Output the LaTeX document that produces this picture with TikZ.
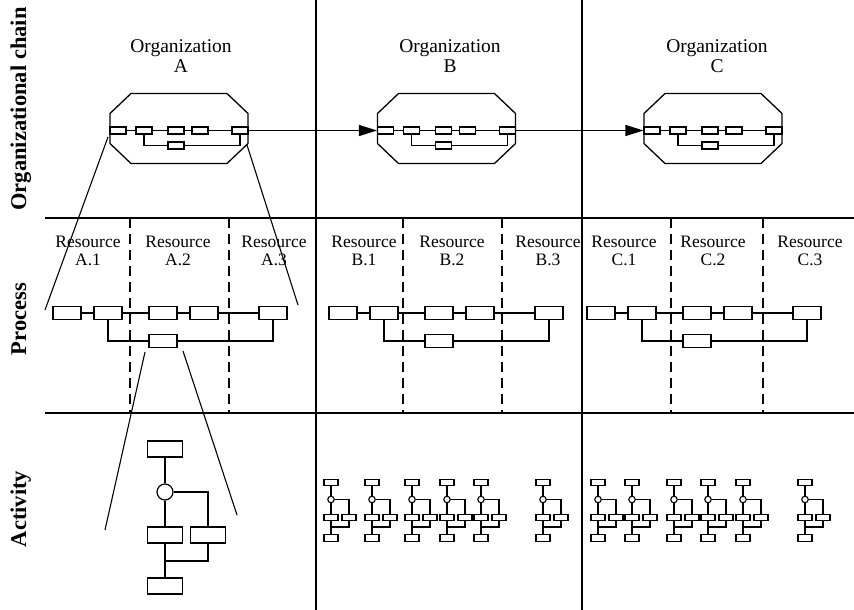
\documentclass[tikz,border=0pt]{standalone}
\usepackage{fontspec}
\setmainfont{Liberation Serif}
\usetikzlibrary{arrows.meta}

\begin{document}
\begin{tikzpicture}[x=1pt,y=-1pt,
  frame/.style={line width=1.7pt},
  band/.style={line width=1.3pt},
  lane/.style={line width=1.2pt, dash pattern=on 10pt off 6pt},
  link/.style={line width=1.1pt},
  funnel/.style={line width=1.1pt},
  flow/.style={line width=1.2pt, -{Triangle[length=18pt,width=11pt]}},
  obox/.style={draw, line width=1.1pt, minimum width=16pt, minimum height=7pt, inner sep=0pt},
  pbox/.style={draw, line width=1.2pt, minimum width=28pt, minimum height=13pt, inner sep=0pt},
  abox/.style={draw, line width=1.2pt, minimum width=35pt, minimum height=16pt, inner sep=0pt},
  sbox/.style={draw, line width=1.1pt, minimum width=14pt, minimum height=6.3pt, inner sep=0pt},
  orgtext/.style={font=\fontsize{19.5}{22}\selectfont, inner sep=0pt, anchor=base},
  restext/.style={font=\fontsize{17.5}{20}\selectfont, inner sep=0pt, anchor=base},
  rowtitle/.style={font=\bfseries\fontsize{22.5}{26}\selectfont, rotate=90, anchor=base, inner sep=0pt},
  % organisation: octagon holding a small process chain
  orgchain/.pic={
    \draw[line width=1.3pt] (-48,-35) -- (48,-35) -- (69,-15) -- (69,15) -- (48,35)
      -- (-48,35) -- (-69,15) -- (-69,-15) -- cycle;
    \node[obox] (-b1) at (-61,2) {};
    \node[obox] (-b2) at (-35,2) {};
    \node[obox] (-b3) at (-3,2) {};
    \node[obox] (-b4) at (21,2) {};
    \node[obox] (-b5) at (61,2) {};
    \node[obox] (-lo) at (-3,17) {};
    \draw[link] (-b1) -- (-b2) -- (-b3) -- (-b4) -- (-b5);
    \draw[link] (-b2.south) |- (-lo.west);
    \draw[link] (-lo.east) -| (-b5.south);
  },
  % process chain across the resources
  procchain/.pic={
    \node[pbox] (-b1) at (0,0) {};
    \node[pbox] (-b2) at (41,0) {};
    \node[pbox] (-b3) at (96,0) {};
    \node[pbox] (-b4) at (137,0) {};
    \node[pbox] (-b5) at (206,0) {};
    \node[pbox] (-lo) at (96,28) {};
    \draw[link] (-b1) -- (-b2) -- (-b3) -- (-b4) -- (-b5);
    \draw[link] (-b2.south) |- (-lo.west);
    \draw[link] (-lo.east) -| (-b5.south);
  },
  % small activity flow
  actsmall/.pic={
    \node[sbox] (-t) at (0,0) {};
    \node[circle, draw, line width=1.1pt, minimum size=6.5pt, inner sep=0pt] (-c) at (0,17) {};
    \node[sbox] (-l) at (0,35) {};
    \node[sbox] (-r) at (18,35) {};
    \node[sbox] (-b) at (0,55.5) {};
    \coordinate (-j) at (0,44.5);
    \draw[line width=1.2pt] (-t) -- (-c) -- (-l) -- (-b);
    \draw[line width=1.2pt] (-c) -| (-r);
    \draw[line width=1.2pt] (-r.south) |- (-j);
  }
]
\useasboundingbox (0,0) rectangle (854,610);

% ---- grid of the three levels ----
\draw[frame] (316,0) -- (316,610);
\draw[frame] (582,0) -- (582,610);
\draw[band] (45,218) -- (854,218);
\draw[band] (45,413) -- (854,413);
\foreach \lx in {130,229,403,502,671,763}
  \draw[lane] (\lx,218) -- (\lx,413);

% ---- row titles ----
\node[rowtitle] (tOrg) at (26,109) {Organizational chain};
\node[rowtitle] (tProc) at (26,319) {Process};
\node[rowtitle] (tAct) at (26,509) {Activity};

% ---- organizational chain ----
\node[orgtext] (oA1) at (181,53) {Organization};
\node[orgtext] (oA2) at (181,73) {A};
\node[orgtext] (oB1) at (450,53) {Organization};
\node[orgtext] (oB2) at (450,73) {B};
\node[orgtext] (oC1) at (717,53) {Organization};
\node[orgtext] (oC2) at (717,73) {C};

\pic (A) at (179,128.5) {orgchain};
\pic (B) at (446.5,128.5) {orgchain};
\pic (C) at (713,128.5) {orgchain};

\draw[flow] (A-b5) -- (B-b1);
\draw[flow] (B-b5) -- (C-b1);

% ---- resources ----
\foreach \rx/\rl in {88/A.1,178/A.2,274/A.3,364/B.1,452/B.2,548/B.3,624/C.1,713/C.2,810/C.3}{
  \node[restext] (r\rl a) at (\rx,247) {Resource};
  \node[restext] (r\rl b) at (\rx,265) {\rl};
}

% ---- processes ----
\pic (PA) at (67,313) {procchain};
\pic (PB) at (343,313) {procchain};
\pic (PC) at (601,313) {procchain};

% zoom lines from organization A to its process
\coordinate (zA1) at (108,137);
\coordinate (zA2) at (45,310);
\coordinate (zA3) at (247,145);
\coordinate (zA4) at (298,305);
\draw[funnel] (zA1) -- (zA2);
\draw[funnel] (zA3) -- (zA4);

% zoom lines from the process step to its activity flow
\coordinate (zP1) at (145,352);
\coordinate (zP2) at (105,530);
\coordinate (zP3) at (183,351);
\coordinate (zP4) at (237,515);
\draw[funnel] (zP1) -- (zP2);
\draw[funnel] (zP3) -- (zP4);

% ---- detailed activity flow ----
\node[abox] (at) at (165,449) {};
\node[circle, draw, line width=1.2pt, minimum size=16pt, inner sep=0pt] (ac) at (165,492) {};
\node[abox] (al) at (165,535) {};
\node[abox] (ar) at (208,535) {};
\node[abox] (ab) at (165,586) {};
\coordinate (aj) at (165,561);
\draw[link] (at) -- (ac) -- (al) -- (ab);
\draw[link] (ac) -| (ar);
\draw[link] (ar.south) |- (aj);

% ---- activity flows of B and C ----
\foreach \ax [count=\i] in {331,372,412,447,481,543}
  \pic (sB\i) at (\ax,482.5) {actsmall};
\foreach \ax [count=\i] in {598,632,674,708,743,805}
  \pic (sC\i) at (\ax,482.5) {actsmall};

\end{tikzpicture}
\end{document}
